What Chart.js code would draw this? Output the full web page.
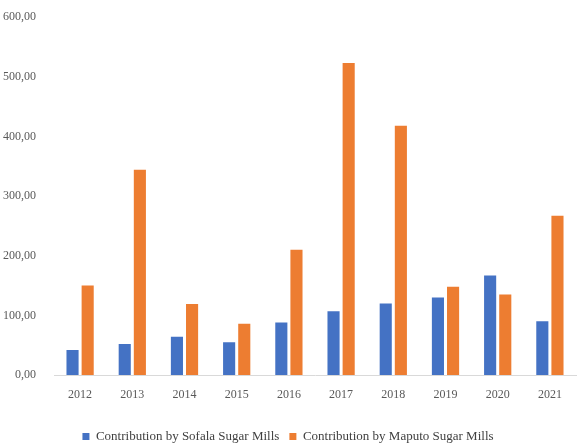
<!DOCTYPE html>
<html>
<head>
<meta charset="utf-8">
<script src="https://cdn.jsdelivr.net/npm/chart.js@4"></script>
<style>
  html, body { margin: 0; padding: 0; background: #fff; }
  #wrap { width: 579px; height: 447px; }
</style>
</head>
<body>
<div id="wrap"><canvas id="grafico" width="579" height="447"></canvas></div>
<script>
const anos = ['2012', '2013', '2014', '2015', '2016', '2017', '2018', '2019', '2020', '2021'];
const sofala = [42, 52, 64, 55, 88, 107, 120, 130, 167, 90];
const maputo = [150, 344, 119, 86, 210, 523, 418, 148, 135, 267];

const fonte = 'Liberation Serif, Times New Roman, serif';

const ctx = document.getElementById('grafico').getContext('2d');
new Chart(ctx, {
    type: 'bar',
    data: {
        labels: anos,
        datasets: [{
            label: 'Contribution by Sofala Sugar Mills',
            data: sofala,
            backgroundColor: '#4472C4',
            categoryPercentage: 0.58,
            barPercentage: 0.8
        }, {
            label: 'Contribution by Maputo Sugar Mills',
            data: maputo,
            backgroundColor: '#ED7D31',
            categoryPercentage: 0.58,
            barPercentage: 0.8
        }]
    },
    options: {
        responsive: false,
        animation: false,
        layout: { padding: { top: 16, right: 3, bottom: -6, left: 0 } },
        plugins: {
            tooltip: { enabled: false },
            legend: {
                position: 'bottom',
                labels: {
                    boxWidth: 7,
                    boxHeight: 7,
                    padding: 10,
                    color: '#404040',
                    font: { family: fonte, size: 13 }
                }
            }
        },
        scales: {
            x: {
                grid: { display: true, drawOnChartArea: false, drawTicks: false },
                border: { display: true, color: '#D9D9D9', width: 1 },
                ticks: {
                    color: '#595959',
                    padding: 13,
                    maxRotation: 0,
                    font: { family: fonte, size: 12 }
                },
                afterFit: (escala) => { escala.height = 45; }
            },
            y: {
                min: 0,
                max: 600,
                grid: { display: false },
                border: { display: false },
                ticks: {
                    stepSize: 100,
                    color: '#595959',
                    padding: 10,
                    font: { family: fonte, size: 12 },
                    callback: (v) => v.toFixed(2).replace('.', ',')
                },
                afterFit: (escala) => { escala.width = 54; }
            }
        }
    }
});
</script>
</body>
</html>
